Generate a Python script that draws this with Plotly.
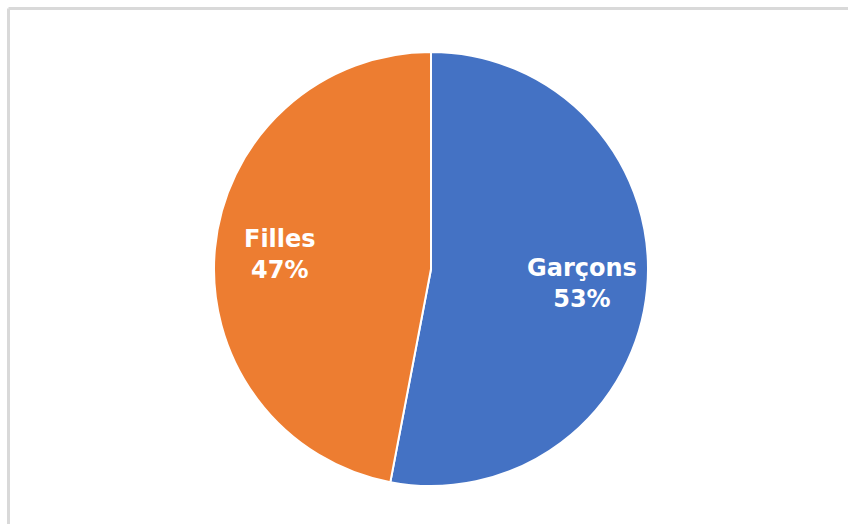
import math
import plotly.graph_objects as go

labels = ["Garçons", "Filles"]
values = [53, 47]
colors = ["#4472C4", "#ED7D31"]

W, H = 848, 524
cx, cy, r = 431, 269, 217

fig = go.Figure(go.Pie(
    labels=labels,
    values=values,
    sort=False,
    direction="clockwise",
    rotation=0,
    marker=dict(colors=colors, line=dict(color="white", width=2)),
    textinfo="none",
    hoverinfo="label+percent",
    showlegend=False,
    domain=dict(x=[(cx - r) / W, (cx + r) / W], y=[1 - (cy + r) / H, 1 - (cy - r) / H]),
))

# data labels placed along each slice's mid-angle
total = sum(values)
annotations = []
cum = 0
for lab, v in zip(labels, values):
    mid = 90 - (cum + v / 2) / total * 360
    cum += v
    px = cx + 0.70 * r * math.cos(math.radians(mid))
    py = cy - 0.70 * r * math.sin(math.radians(mid))
    annotations.append(dict(
        x=px / W, y=1 - py / H, xref="paper", yref="paper",
        text=f"<b>{lab}<br>{round(v / total * 100)}%</b>",
        showarrow=False, xanchor="center", yanchor="middle",
        font=dict(family="DejaVu Sans", size=24, color="white"),
    ))

fig.update_layout(
    width=W, height=H,
    margin=dict(l=0, r=0, t=0, b=0),
    paper_bgcolor="white",
    plot_bgcolor="white",
    annotations=annotations,
    shapes=[
        dict(type="line", xref="paper", yref="paper", x0=8.5 / W, x1=1, y0=1 - 8.5 / H, y1=1 - 8.5 / H,
             line=dict(color="#d9d9d9", width=3)),
        dict(type="line", xref="paper", yref="paper", x0=8.5 / W, x1=8.5 / W, y0=0, y1=1 - 8.5 / H,
             line=dict(color="#d9d9d9", width=3)),
    ],
)

fig.write_html(
    "out.html",
    config={"displayModeBar": False},
    post_script="document.body.style.margin='0';document.body.style.overflow='hidden';",
)
